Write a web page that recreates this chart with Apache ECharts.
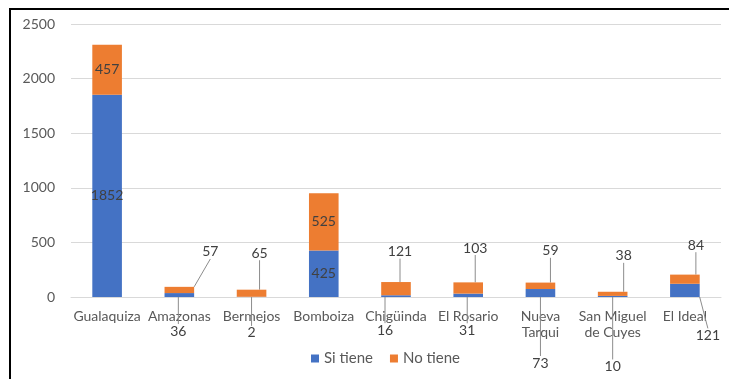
<!DOCTYPE html>
<html><head><meta charset="utf-8">
<script src="https://cdn.jsdelivr.net/npm/echarts@6/dist/echarts.min.js"></script>
<style>html,body{margin:0;padding:0;background:#fff;overflow:hidden}#c{width:729px;height:379px}</style>
</head><body><div id="c"></div>
<script>
const categories = ['Gualaquiza','Amazonas','Bermejos','Bomboiza','Chigüinda','El Rosario','Nueva Tarqui','San Miguel de Cuyes','El Ideal'];
const siTiene = [1852, 36, 2, 425, 16, 31, 73, 10, 121];
const noTiene = [457, 57, 65, 525, 121, 103, 59, 38, 84];
const yTicks = {min: 0, max: 2500, interval: 500};

// label offsets (pixels) mimicking Excel's best-fit callouts
const siOffsets = [[0,0],[-1,36],[0,36],[0,0],[-11,34],[-1,35],[0,70],[0,70],[23,45]];
const noOffsets = [[0,0],[31,-38],[8,-40],[0,0],[4,-37],[7,-40],[10,-35],[11,-38],[11,-34]];

const font = 'Lato, "Open Sans", sans-serif';
const chart = echarts.init(document.getElementById('c'));
function mkData(vals, offs){
  return vals.map((v,i)=>({value:v, labelLine:{show: !(offs[i][0]===0 && offs[i][1]===0)}}));
}
chart.setOption({
  animation:false,
  graphic:[{type:'rect', shape:{x:10,y:9,width:800,height:450}, style:{fill:'none',stroke:'#000',lineWidth:2}, z:100}],
  grid:{left:71,right:8,top:24,bottom:82},
  legend:{bottom:8,left:306,itemWidth:8,itemHeight:8,itemGap:17,icon:'rect',
    textStyle:{fontFamily:font,fontSize:15,color:'#595959'}},
  xAxis:{type:'category',data:categories,
    axisLine:{lineStyle:{color:'#d9d9d9',width:1}},axisTick:{show:false},
    axisLabel:{interval:0,margin:11,fontFamily:font,fontSize:14,color:'#595959',lineHeight:16,
      formatter:v=>v.replace('Nueva ','Nueva\n').replace('San Miguel ','San Miguel\n')}},
  yAxis:{type:'value',min:yTicks.min,max:yTicks.max,interval:yTicks.interval,
    axisLine:{show:false},axisTick:{show:false},
    splitLine:{lineStyle:{color:'#d9d9d9',width:1}},
    axisLabel:{margin:16,fontFamily:font,fontSize:14,color:'#595959',formatter:v=>String(v)}},
  series:[
    {name:'Si tiene',type:'bar',stack:'a',barWidth:'41%',data:mkData(siTiene,siOffsets),
      itemStyle:{color:'#4472C4'},
      label:{show:true,position:'inside',fontFamily:font,fontSize:14,color:'#404040'},
      labelLine:{show:true,lineStyle:{color:'#8c8c8c',width:1}},
      labelLayout:p=>({dx:siOffsets[p.dataIndex][0],dy:siOffsets[p.dataIndex][1]})},
    {name:'No tiene',type:'bar',stack:'a',barWidth:'41%',data:mkData(noTiene,noOffsets),
      itemStyle:{color:'#ED7D31'},
      label:{show:true,position:'inside',fontFamily:font,fontSize:14,color:'#404040'},
      labelLine:{show:true,lineStyle:{color:'#8c8c8c',width:1}},
      labelLayout:p=>({dx:noOffsets[p.dataIndex][0],dy:noOffsets[p.dataIndex][1]})}
  ]
});
</script></body></html>
